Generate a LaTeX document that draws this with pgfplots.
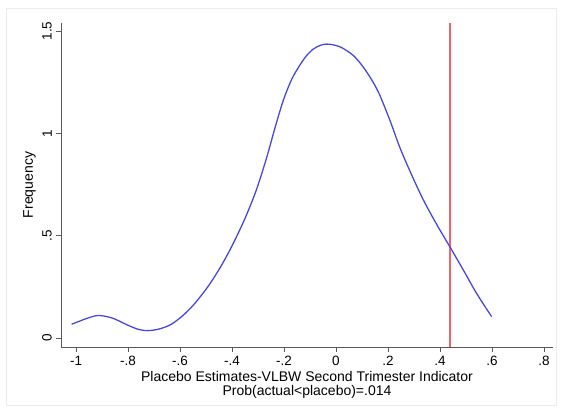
\documentclass[border=0pt]{standalone}
\usepackage{pgfplots}
\pgfplotsset{compat=1.18}
\usepackage{fontspec}
\setmainfont{Liberation Sans}
\definecolor{curveblue}{RGB}{72,72,222}
\definecolor{vred}{RGB}{242,100,100}
\definecolor{axgray}{RGB}{90,90,90}
\begin{document}
\begin{tikzpicture}[x=1pt,y=1pt]
\useasboundingbox (0,0) rectangle (563,412);
\draw[black!8, line width=0.8pt] (6,7) rectangle (556,404);
\begin{axis}[
  at={(61pt,65pt)}, anchor=south west, scale only axis,
  width=492pt, height=324pt,
  xmin=-1.058, xmax=0.835, ymin=-0.044, ymax=1.539,
  axis x line*=bottom, axis y line*=left,
  axis line style={axgray, line width=0.8pt, -},
  xtick={-1,-0.8,-0.6,-0.4,-0.2,0,0.2,0.4,0.6,0.8},
  xticklabels={-1,-.8,-.6,-.4,-.2,0,.2,.4,.6,.8},
  ytick={0,0.5,1,1.5},
  yticklabels={0,.5,1,1.5},
  yticklabel style={rotate=90, anchor=south},
  xticklabel shift=3pt,
  yticklabel shift=3pt,
  tick align=outside, major tick length=5pt,
  tick style={axgray, line width=0.8pt},
  ticklabel style={font=\fontsize{13.5}{15}\selectfont, inner sep=1pt},
  xlabel={Placebo Estimates-VLBW Second Trimester Indicator\\Prob(actual<placebo)=.014},
  xlabel style={align=center, inner sep=1pt, font=\fontsize{14}{14.5}\selectfont,
    at={(axis description cs:0.5,0)}, anchor=north, yshift=-23pt},
  ylabel={Frequency},
  ylabel style={font=\fontsize{14}{15}\selectfont, yshift=2pt},
  clip=true,
]
\addplot[vred, line width=2pt] coordinates {(0.44,-0.044) (0.44,1.539)};
\addplot[curveblue, line width=1.3pt, smooth] coordinates {
(-1.017,0.067) (-0.960,0.095) (-0.914,0.110) (-0.860,0.097) (-0.805,0.065)
(-0.760,0.042) (-0.722,0.036) (-0.680,0.044) (-0.638,0.064) (-0.600,0.098)
(-0.560,0.145) (-0.520,0.205) (-0.485,0.265) (-0.446,0.343) (-0.408,0.430)
(-0.375,0.515) (-0.343,0.605) (-0.305,0.728) (-0.267,0.880) (-0.235,1.025)
(-0.203,1.160) (-0.170,1.265) (-0.138,1.335) (-0.113,1.380) (-0.087,1.412)
(-0.060,1.430) (-0.036,1.436) (-0.010,1.432) (0.015,1.423) (0.040,1.405)
(0.067,1.380) (0.092,1.345) (0.118,1.300) (0.145,1.245) (0.169,1.185)
(0.208,1.062) (0.246,0.930) (0.290,0.800) (0.336,0.675) (0.387,0.556)
(0.438,0.446) (0.490,0.332) (0.541,0.218) (0.599,0.104)
};
\end{axis}
\end{tikzpicture}
\end{document}
